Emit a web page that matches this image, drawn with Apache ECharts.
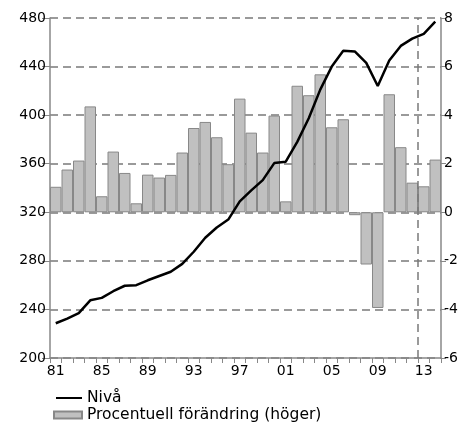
<!DOCTYPE html>
<html><head><meta charset="utf-8">
<script src="https://cdn.jsdelivr.net/npm/echarts@6/dist/echarts.min.js"></script>
<style>html,body{margin:0;padding:0;background:#fff}#c{width:470px;height:429px}</style>
</head><body><div id="c"></div>
<script>
var years = [1981,1982,1983,1984,1985,1986,1987,1988,1989,1990,1991,1992,1993,1994,1995,1996,1997,1998,1999,2000,2001,2002,2003,2004,2005,2006,2007,2008,2009,2010,2011,2012,2013,2014];
var niva = [228.6,232.5,237,247.5,249.5,255,259.5,260,264,267.5,271,277.5,287.5,299,307.5,314,329,338,346.5,360.5,361.7,378,397.5,421,440,453,452.5,443,424,445,457,463,467,477];
var change = [1.05,1.76,2.13,4.36,0.66,2.5,1.62,0.37,1.55,1.43,1.54,2.46,3.47,3.72,3.09,1.98,4.68,3.28,2.46,3.98,0.45,5.21,4.82,5.68,3.5,3.83,-0.12,-2.15,-3.94,4.86,2.68,1.22,1.07,2.17];
var leftTicks = {min:200, max:480, interval:40};
var rightTicks = {min:-6, max:8, interval:2};
var forecastStart = 32; // boundary before 2013
var names = ['Nivå','Procentuell förändring (höger)'];

var font = 'DejaVu Sans';
var dash = {type:[8,5], color:'#7a7a7a', width:1.5};
var legendText = {fontFamily:font, fontSize:15.5, color:'#000'};
var chart = echarts.init(document.getElementById('c'), null, {renderer:'canvas'});
chart.setOption({
  animation:false,
  textStyle:{fontFamily:font},
  grid:{left:50, right:29, top:18, bottom:71, containLabel:false},
  legend:[{
    left:55, top:390, itemWidth:26, itemHeight:9, itemGap:0, padding:0,
    textStyle:legendText,
    data:[{name:names[0], itemStyle:{opacity:0}}]
  },{
    left:53, top:407, itemWidth:28, itemHeight:7, padding:0,
    textStyle:legendText,
    data:[{name:names[1], icon:'rect'}]
  }],
  xAxis:[{
    type:'category', data:years, boundaryGap:true,
    axisLine:{onZero:false, lineStyle:{color:'#888', width:1.5}},
    axisTick:{show:true, interval:0, length:5, lineStyle:{color:'#888'}},
    axisLabel:{interval:3, fontFamily:font, fontSize:14, color:'#000', margin:6,
      formatter:function(v){var s=String(v%100);return s.length<2?'0'+s:s;}},
    splitLine:{show:false}
  },{
    type:'value', min:0, max:years.length, show:false
  }],
  yAxis:[{
    type:'value', min:leftTicks.min, max:leftTicks.max, interval:leftTicks.interval,
    axisLine:{show:true, lineStyle:{color:'#888', width:1.5}},
    axisTick:{show:true, length:8, lineStyle:{color:'#888'}},
    axisLabel:{fontFamily:font, fontSize:14, color:'#000', margin:4},
    splitLine:{show:true, lineStyle:dash}
  },{
    type:'value', min:rightTicks.min, max:rightTicks.max, interval:rightTicks.interval,
    position:'right',
    axisLine:{show:true, lineStyle:{color:'#888', width:1.5}},
    axisTick:{show:true, length:5, lineStyle:{color:'#888'}},
    axisLabel:{fontFamily:font, fontSize:14, color:'#000', margin:3},
    splitLine:{show:false}
  }],
  series:[{
    name:names[1], type:'bar', xAxisIndex:0, yAxisIndex:1, data:change,
    barWidth:'100%', barCategoryGap:'0%',
    itemStyle:{color:'#c0c0c0', borderColor:'#888', borderWidth:1}, z:2
  },{
    name:names[0], type:'line', xAxisIndex:0, yAxisIndex:0, data:niva,
    symbol:'none', lineStyle:{color:'#000', width:2.5}, itemStyle:{color:'#000'}, z:4
  },{
    name:'marker', type:'line', xAxisIndex:1, yAxisIndex:0, data:[], z:3,
    markLine:{silent:true, symbol:'none', label:{show:false},
      lineStyle:{type:[8,5], color:'#7a7a7a', width:1.5},
      data:[{xAxis:forecastStart}]}
  }]
});
</script></body></html>
